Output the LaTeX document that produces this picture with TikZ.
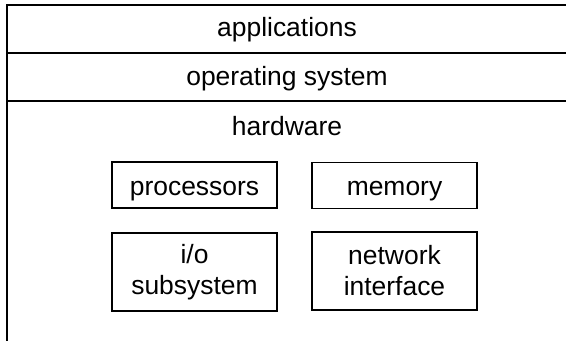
\documentclass[tikz,border=0pt]{standalone}
\usepackage{fontspec}
\setmainfont{Liberation Sans}
\begin{document}
\begin{tikzpicture}[x=0.025cm,y=-0.025cm,
	layer/.style={font=\fontsize{18.8}{22}\selectfont, anchor=base, inner sep=0pt},
	part/.style={draw, line width=1pt, font=\fontsize{18.8}{22}\selectfont, align=center, minimum width=4.125cm, inner sep=0pt},
	oneline/.style={part, minimum height=1.15cm, text height=0.5cm, text depth=0cm}]
	
		\useasboundingbox (0,0) rectangle (566,341);
		
		% outer frame
		\draw[line width=1.5pt] (7,341) -- (7,5) -- (566,5);
		\draw[line width=1.5pt] (7,53) -- (566,53);
		\draw[line width=1.5pt] (7,101) -- (566,101);
		
		% layers
		\node[layer] (apps) at (287,37) {applications};
		\node[layer] (os) at (287,86) {operating system};
		\node[layer] (hw) at (287,135) {hardware};
		
		% hardware parts
		\node[oneline] (cpu) at (194.5,185) {processors};
		\node[oneline] (mem) at (394.5,185.5) {memory};
		\node[part, minimum height=1.95cm] (io) at (194.5,272) {i/o\\subsystem};
		\node[part, minimum height=1.95cm] (net) at (394.5,271) {network\\interface};
	
	\end{tikzpicture}
\end{document}
